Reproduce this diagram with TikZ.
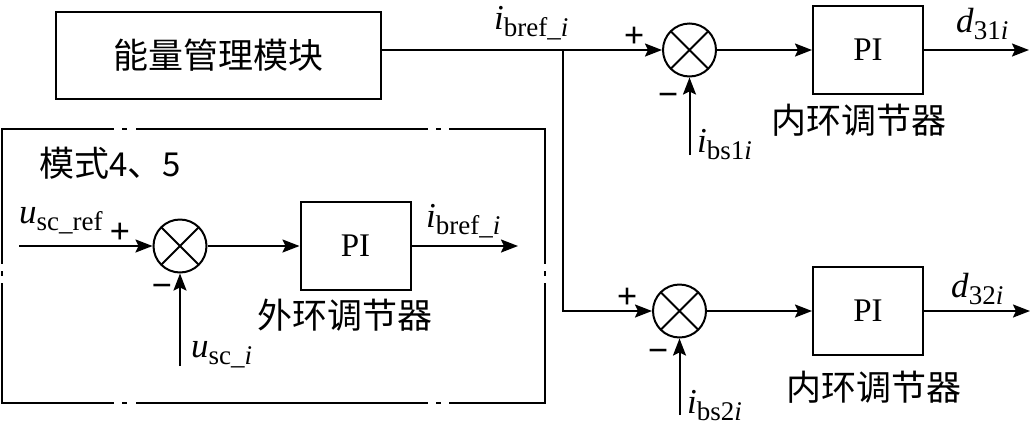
\documentclass[tikz,border=0pt]{standalone}
\usepackage{fontspec}
\usepackage{tikz}
\usetikzlibrary{arrows.meta,positioning,calc}
\setmainfont{Liberation Serif}
\newfontfamily\cjk{Noto Sans CJK SC}
\newcommand{\latf}{\fontsize{33}{40}\selectfont}
\newcommand{\cjkf}{\cjk\fontsize{35}{40}\selectfont}
\newcommand{\sigl}[2]{\textit{#1}\raisebox{-7pt}{\fontsize{27}{27}\selectfont #2}}
\tikzset{
    blk/.style={draw, line width=2pt, minimum width=110pt, minimum height=88pt, inner sep=0pt, font=\latf},
    sumpt/.style={draw, circle, line width=2pt, minimum size=53pt, inner sep=0pt,
        path picture={\draw[line width=2pt] (path picture bounding box.north west) -- (path picture bounding box.south east)
            (path picture bounding box.north east) -- (path picture bounding box.south west);}},
    sig/.style={line width=2pt, -{Stealth[length=17pt,width=13pt,inset=3pt]}},
    lbl/.style={font=\fontsize{35}{40}\selectfont, inner sep=0pt, anchor=base west},
    sgn/.style={font=\fontsize{36}{40}\selectfont\bfseries, inner sep=0pt},
    hside/.style={line width=2pt, line cap=rect, dash pattern=on 111pt off 10pt on 3pt off 11pt on 290pt off 10pt on 3pt off 10pt on 200pt},
    vside/.style={line width=2pt, line cap=rect, dash pattern=on 134pt off 9pt on 3pt off 9pt on 200pt}
}

\begin{document}
\begin{tikzpicture}[x=1pt, y=-1pt]
    \useasboundingbox (0,0) rectangle (1031,429);

    % energy management block and branch point
    \node[blk, minimum width=325pt, minimum height=87pt, font=\cjkf] (ems) at (218.5,55.5) {能量管理模块};
    \coordinate (br) at (563,50);
    \node[lbl] (iref) at (494,29) {\sigl{i}{bref\_\textit{i}}};

    % mode 4, 5 frame
    \draw[hside] (2,129) -- (545,129);
    \draw[hside] (2,403) -- (545,403);
    \draw[vside] (2,129) -- (2,403);
    \draw[vside] (545,129) -- (545,403);
    \node[font=\cjkf, inner sep=0pt] (mode) at (110,163) {模式{\latf 4}、{\latf 5}};

    % outer loop
    \coordinate (uin) at (19,246);
    \node[sumpt] (s0) at (180,246) {};
    \node[blk] (pi0) at (355.5,246) {PI};
    \coordinate (uout) at (518,246);
    \coordinate (ufb) at (180,366);
    \draw[sig] (uin) -- (s0);
    \draw[sig] (s0) -- (pi0);
    \draw[sig] (pi0) -- (uout);
    \draw[sig] (ufb) -- (s0);
    \node[lbl] (uref) at (19,223) {\sigl{u}{sc\_ref}};
    \node[lbl] (usc) at (191,357) {\sigl{u}{sc\_\textit{i}}};
    \node[lbl] (iout) at (426,227) {\sigl{i}{bref\_\textit{i}}};
    \node[sgn] (p0) at (120,233) {+};
    \node[sgn] (m0) at (162,291) {−};
    \node[font=\cjkf, inner sep=0pt] (outer) at (345,315) {外环调节器};

    % inner loop 1
    \node[sumpt] (s1) at (689.5,50) {};
    \node[blk] (pi1) at (868,50) {PI};
    \coordinate (o1) at (1029,50);
    \coordinate (fb1) at (689.5,155);
    \draw[sig] (ems.east |- br) -- (s1);
    \draw[sig] (s1) -- (pi1);
    \draw[sig] (pi1) -- (o1);
    \draw[sig] (fb1) -- (s1);
    \node[lbl] (d1) at (956,32) {\sigl{d}{31\textit{i}}};
    \node[lbl] (ib1) at (697,152) {\sigl{i}{bs1\textit{i}}};
    \node[sgn] (p1) at (634,37) {+};
    \node[sgn] (m1) at (668,100) {−};
    \node[font=\cjkf, inner sep=0pt] (inner1) at (859,120) {内环调节器};

    % inner loop 2
    \node[sumpt] (s2) at (679.5,311) {};
    \node[blk] (pi2) at (868,311) {PI};
    \coordinate (o2) at (1030,311);
    \coordinate (fb2) at (679.5,415);
    \draw[sig] (br) |- (s2);
    \draw[sig] (s2) -- (pi2);
    \draw[sig] (pi2) -- (o2);
    \draw[sig] (fb2) -- (s2);
    \node[lbl] (d2) at (951,297) {\sigl{d}{32\textit{i}}};
    \node[lbl] (ib2) at (687,413) {\sigl{i}{bs2\textit{i}}};
    \node[sgn] (p2) at (627,298) {+};
    \node[sgn] (m2) at (658,356) {−};
    \node[font=\cjkf, inner sep=0pt] (inner2) at (874,387) {内环调节器};
\end{tikzpicture}
\end{document}
